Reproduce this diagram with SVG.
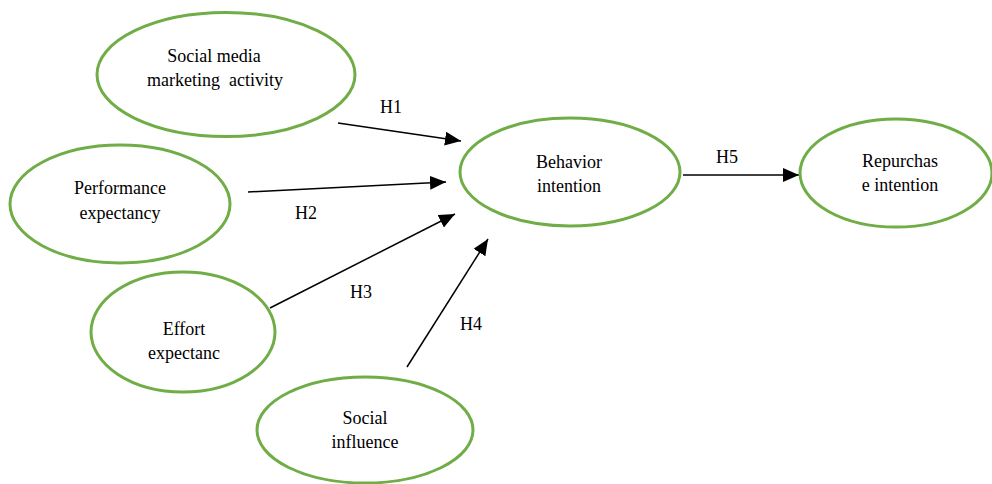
<svg xmlns="http://www.w3.org/2000/svg" width="992" height="484" viewBox="0 0 992 484" font-family="Liberation Serif, DejaVu Serif, serif">
<style>
.n{fill:#fff;stroke:#70AD47;stroke-width:3}
.t{font-family:Liberation Serif, DejaVu Serif, serif;font-size:18px;fill:#000;text-anchor:middle}
.c{stroke:#000;stroke-width:1.5;fill:none;marker-end:url(#ah)}
</style>
<defs>
<marker id="ah" markerUnits="userSpaceOnUse" markerWidth="18" markerHeight="14" refX="16" refY="7" orient="auto">
<path d="M0,0 L16,7 L0,14 Z" fill="#000"/>
</marker>
</defs>
<rect width="992" height="484" fill="#fff"/>
<g id="connectors">
<line class="c" x1="338" y1="123" x2="461" y2="141"/>
<line class="c" x1="248" y1="192" x2="446" y2="182"/>
<line class="c" x1="270" y1="308" x2="455" y2="214"/>
<line class="c" x1="407" y1="367" x2="488" y2="239"/>
<line class="c" x1="683" y1="175" x2="799" y2="175"/>
<text class="t" x="391" y="113">H1</text>
<text class="t" x="306" y="219">H2</text>
<text class="t" x="361" y="298">H3</text>
<text class="t" x="471" y="330">H4</text>
<text class="t" x="727" y="163">H5</text>
</g>
<g id="smma">
<ellipse class="n" cx="226" cy="74.5" rx="129" ry="62"/>
<text class="t" x="214" y="62">Social media</text>
<text class="t" x="215" y="86" xml:space="preserve">marketing  activity</text>
</g>
<g id="pe">
<ellipse class="n" cx="120" cy="204" rx="110" ry="59"/>
<text class="t" x="120" y="194">Performance</text>
<text class="t" x="120" y="219">expectancy</text>
</g>
<g id="ee">
<ellipse class="n" cx="183" cy="332" rx="92" ry="60"/>
<text class="t" x="184" y="335">Effort</text>
<text class="t" x="184" y="359">expectanc</text>
</g>
<g id="si">
<ellipse class="n" cx="365" cy="430" rx="108" ry="53"/>
<text class="t" x="365" y="424">Social</text>
<text class="t" x="365" y="448">influence</text>
</g>
<g id="bi">
<ellipse class="n" cx="570" cy="172" rx="110" ry="54"/>
<text class="t" x="569" y="168">Behavior</text>
<text class="t" x="569" y="192">intention</text>
</g>
<g id="ri">
<ellipse class="n" cx="896" cy="173" rx="96" ry="54"/>
<text class="t" x="900" y="167">Repurchas</text>
<text class="t" x="900" y="191">e intention</text>
</g>
</svg>
